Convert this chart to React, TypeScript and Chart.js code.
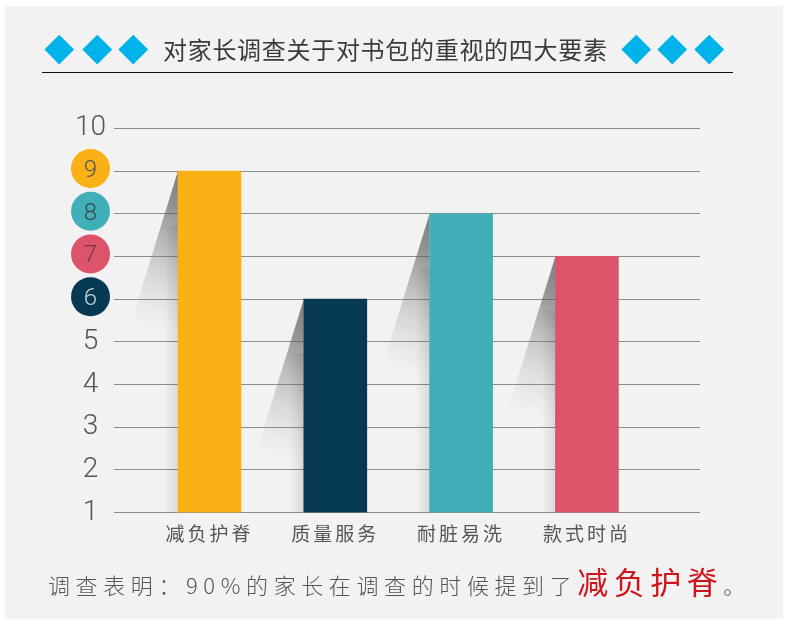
import React, { useEffect, useRef } from 'react';
import { Chart, registerables } from 'chart.js';

Chart.register(...registerables);

// ---- data ----
const categories = ['减负护脊', '质量服务', '耐脏易洗', '款式时尚'];
const values = [9, 6, 8, 7];
const barColors = ['#FBB116', '#053A52', '#41AFB7', '#DC5469'];
const yMin = 1;
const yMax = 10;
const badgeValues = [9, 8, 7, 6];
const badgeColors = ['#FBB116', '#41AFB7', '#DC5469', '#053A52'];
const badgeTextColors = ['#555555', '#3a4a4c', '#7a3340', '#c9d3d8'];
const titleText = '对家长调查关于对书包的重视的四大要素';
const footerLead = '调查表明：90%的家长在调查的时候提到了';
const footerHighlight = '减负护脊';
const footerEnd = '。';

const CJK = '"Noto Sans CJK SC", "Noto Sans", sans-serif';

const badgePlugin = {
  id: 'badges',
  beforeDraw(chart: any) {
    const ys = chart.scales.y;
    const ctx = chart.ctx;
    ctx.save();
    badgeValues.forEach((v, i) => {
      const py = ys.getPixelForValue(v) - 2.5;
      ctx.beginPath();
      ctx.arc(90.5, py, 19.5, 0, Math.PI * 2);
      ctx.fillStyle = badgeColors[i];
      ctx.fill();
    });
    ctx.restore();
  },
};

const shadowPlugin = {
  id: 'barShadows',
  beforeDatasetsDraw(chart: any) {
    const ctx = chart.ctx;
    const meta = chart.getDatasetMeta(0);
    meta.data.forEach((bar: any) => {
      const { x, y, width, base } = bar.getProps(['x', 'y', 'width', 'base'], true);
      const left = x - width / 2;
      const L = 180;
      const dx = L * 0.31;
      ctx.save();
      ctx.beginPath();
      ctx.moveTo(left, y);
      ctx.lineTo(left - dx, y + L);
      ctx.lineTo(left, y + L);
      ctx.closePath();
      ctx.clip();
      const g = ctx.createRadialGradient(left + 25, y - 15, 0, left + 25, y - 15, L);
      g.addColorStop(0, 'rgba(70,70,70,0.85)');
      g.addColorStop(0.35, 'rgba(90,90,90,0.6)');
      g.addColorStop(0.7, 'rgba(130,130,130,0.25)');
      g.addColorStop(1, 'rgba(160,160,160,0)');
      ctx.fillStyle = g;
      ctx.fillRect(left - dx - 2, y, dx + 2, L);
      ctx.restore();
      // soft shading hugging the bar's left edge
      ctx.save();
      const top2 = y + L * 0.3;
      const eg = ctx.createLinearGradient(left, 0, left - 14, 0);
      eg.addColorStop(0, 'rgba(0,0,0,0.10)');
      eg.addColorStop(1, 'rgba(0,0,0,0)');
      ctx.fillStyle = eg;
      ctx.fillRect(left - 14, top2, 14, base - top2);
      ctx.restore();
    });
  },
};

const spacingPlugin = {
  id: 'xLabelSpacing',
  afterDatasetsDraw(chart: any) {
    chart.ctx.letterSpacing = '3px';
  },
  afterDraw(chart: any) {
    chart.ctx.letterSpacing = '0px';
  },
};

function BarChart() {
  const ref = useRef<HTMLCanvasElement | null>(null);
  useEffect(() => {
    if (!ref.current) return;
    const chart = new Chart(ref.current, {
      type: 'bar',
      data: {
        datasets: [
          {
            data: values.map((v, i) => ({ x: i, y: v })),
            backgroundColor: barColors,
            barThickness: 63,
            base: yMin,
            borderWidth: 0,
          } as any,
        ],
      },
      options: {
        animation: false,
        responsive: false,
        devicePixelRatio: 1,
        layout: { padding: { top: 128.3, right: 90, bottom: 86.3, left: 0 } },
        plugins: {
          legend: { display: false },
          tooltip: { enabled: false },
          title: { display: false },
        },
        scales: {
          x: {
            type: 'linear',
            min: -0.759,
            max: 3.899,
            offset: false,
            grid: { display: false },
            border: { display: false },
            afterBuildTicks: (axis: any) => {
              axis.ticks = categories.map((_, i) => ({ value: i }));
            },
            afterFit: (axis: any) => {
              axis.height = 40;
            },
            ticks: {
              z: 1,
              padding: 2,
              color: '#555555',
              autoSkip: false,
              maxRotation: 0,
              font: { family: '"Noto Sans CJK SC"', size: 19 },
              callback: (v: any) => categories[v] ?? '',
            },
          },
          y: {
            min: yMin,
            max: yMax,
            afterFit: (axis: any) => {
              axis.width = 114;
            },
            grid: { color: '#8c8c8c', lineWidth: 1, drawTicks: false },
            border: { display: false },
            ticks: {
              stepSize: 1,
              crossAlign: 'center',
              padding: 8,
              labelOffset: 0,
              color: (c: any) => {
                const i = badgeValues.indexOf(c.tick?.value);
                return i >= 0 ? badgeTextColors[i] : '#555555';
              },
              font: (c: any) => {
                const i = badgeValues.indexOf(c.tick?.value);
                return { family: 'Roboto', weight: '300', size: i >= 0 ? 24 : 28 };
              },
            },
          },
        },
      } as any,
      plugins: [badgePlugin, shadowPlugin, spacingPlugin],
    });
    return () => chart.destroy();
  }, []);
  return (
    <canvas
      ref={ref}
      width={790}
      height={639}
      style={{ position: 'absolute', left: 0, top: 0, width: 790, height: 639 }}
    />
  );
}

const diamondXs = [59.7, 97.3, 133.3, 636.5, 672, 709];

export default function App() {
  return (
    <div
      style={{
        position: 'fixed',
        left: 0,
        top: 0,
        width: 790,
        height: 639,
        background: '#ffffff',
        overflow: 'hidden',
      }}
    >
      <div
        style={{
          position: 'absolute',
          left: 5,
          top: 6,
          width: 778,
          height: 613,
          background: '#f2f2f2',
        }}
      />
      <BarChart />
      {diamondXs.map((cx, i) => (
        <div
          key={i}
          style={{
            position: 'absolute',
            left: cx - 10.25,
            top: 48.8 - 10.25,
            width: 20.5,
            height: 20.5,
            background: '#00b2ea',
            transform: 'rotate(45deg)',
          }}
        />
      ))}
      <div
        style={{
          position: 'absolute',
          left: 163,
          top: 35,
          fontFamily: CJK,
          fontSize: 24,
          lineHeight: '28px',
          color: '#3a3a3a',
          whiteSpace: 'nowrap',
          letterSpacing: '0.7px',
        }}
      >
        {titleText}
      </div>
      <div
        style={{
          position: 'absolute',
          left: 42,
          top: 71.5,
          width: 691,
          height: 1.5,
          background: '#111111',
        }}
      />
      <div
        style={{
          position: 'absolute',
          left: 48,
          top: 561,
          fontFamily: CJK,
          fontSize: 22,
          fontWeight: 300,
          lineHeight: '40px',
          color: '#555555',
          whiteSpace: 'nowrap',
          letterSpacing: '5.6px',
        }}
      >
        {footerLead}
        <span style={{ color: '#d0121b', fontSize: 31, letterSpacing: '5.5px', fontWeight: 400 }}>
          {footerHighlight}
        </span>
        {footerEnd}
      </div>
    </div>
  );
}
